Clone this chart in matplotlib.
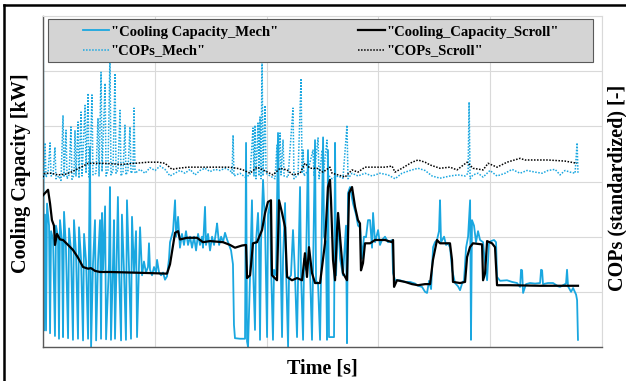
import numpy as np
import matplotlib.pyplot as plt
from matplotlib.patches import Rectangle

plt.rcParams['font.family'] = ['Liberation Serif', 'DejaVu Serif']
plt.rcParams['font.weight'] = 'bold'

# Cooling capacity, mechanical compressor (time [s], value)
t_cap_mech = [0, 9, 18, 27, 36, 54, 63, 72, 90, 107, 116, 134, 143, 152, 170, 179, 188, 205,
              224, 233, 250, 268, 277, 295, 313, 322, 340, 358, 367, 385, 403, 420, 430, 447,
              465, 475, 492, 510, 519, 528, 537, 555, 564, 590, 599, 608, 626, 635, 644, 670,
              680, 698, 706, 724, 742, 751, 769, 787, 796, 814, 832, 841, 868, 886,
              903, 921, 939, 948, 957, 975, 993, 1011, 1020, 1038, 1056, 1074, 1091, 1109,
              1127, 1136, 1163, 1181, 1190, 1208, 1225, 1243, 1261, 1279, 1297, 1315, 1333,
              1351, 1369, 1387, 1404, 1422, 1431, 1449, 1458, 1476, 1494, 1512, 1530, 1548,
              1557, 1575, 1593, 1610, 1628, 1646, 1664, 1682, 1699, 1708, 1717, 1762, 1807,
              1816, 1825, 1834, 1852, 1869, 1878, 1896, 1905, 1923, 1932, 1941, 1950, 1968,
              1986, 2004, 2013, 2031, 2039, 2057, 2066, 2084, 2102, 2111, 2120, 2138, 2147,
              2165, 2174, 2192, 2200, 2218, 2236, 2254, 2272, 2281, 2299, 2308, 2326, 2335,
              2352, 2370, 2379, 2388, 2406, 2415, 2433, 2442, 2460, 2478, 2487, 2505, 2514,
              2531, 2540, 2549, 2558, 2603, 2612, 2621, 2639, 2657, 2683, 2710, 2719, 2728,
              2746, 2773, 2800, 2818, 2836, 2853, 2871, 2889, 2907, 2925, 2943, 2952, 2970,
              2997, 3014, 3032, 3059, 3086, 3122, 3131, 3149, 3193, 3238, 3283, 3328, 3345,
              3372, 3390, 3417, 3435, 3453, 3471, 3489, 3506, 3524, 3542, 3551, 3560, 3587,
              3605, 3623, 3641, 3659, 3685, 3712, 3730, 3748, 3766, 3784, 3802, 3820, 3828,
              3837, 3855, 3873, 3891, 3909, 3936, 3954, 3972, 3989, 4007, 4034, 4052, 4061,
              4088, 4150, 4195, 4240, 4267, 4276, 4285, 4294, 4320, 4356, 4401, 4446, 4455,
              4464, 4472, 4517, 4562, 4607, 4625, 4651, 4678, 4687, 4696, 4723, 4741, 4768,
              4777, 4785]
cap_mech = [6.3, 0.3, 2.4, 0.3, 2.6, 2.2, 0.25, 2.1, 1.95, 0.2, 2.2, 2.0, 0.15, 2.3, 1.9, 0.18,
            2.45, 1.8, 0.16, 2.15, 1.75, 0.13, 2.3, 1.7, 0.15, 2.17, 1.6, 0.12, 2.05, 1.55,
            0.15, 3.62, 0.0, 1.5, 2.3, 0.12, 1.55, 2.3, 0.15, 2.43, 1.4, 2.55, 0.14, 1.5, 2.9,
            0.13, 1.5, 2.3, 0.15, 2.72, 1.4, 0.12, 2.4, 1.4, 0.13, 2.66, 1.45, 0.15, 2.36, 1.35,
            2.1, 0.18, 2.17, 1.3,
            1.55, 1.35, 1.45, 1.88, 1.4, 1.3, 1.45, 1.35, 1.58, 1.35, 1.3, 1.35, 1.22, 1.28,
            1.6, 1.9, 2.1, 2.66, 2.0, 2.36, 1.8, 2.05, 1.85, 2.1, 1.85, 2.0, 1.8,
            2.0, 1.75, 2.05, 1.85, 2.0, 1.8, 2.54, 1.85, 2.05, 1.75, 2.0, 1.85, 2.1,
            2.24, 1.85, 2.0, 1.9, 2.07, 1.95, 1.85, 1.75, 1.5, 0.4, 0.16, 0.15, 0.15,
            3.7, 0.1, 0.0, 1.3, 2.66, 1.5, 0.31, 1.9, 2.43, 1.9, 0.13, 1.9, 3.03,
            2.2, 0.18, 2.4, 2.61, 1.5, 0.13, 1.4, 1.3, 3.88, 2.5, 2.2, 0.18, 1.6,
            2.61, 1.4, 0.0, 1.25, 1.3, 2.12, 1.3, 0.18, 1.2, 2.9, 1.3, 0.13, 1.6,
            1.4, 3.57, 1.8, 1.4, 0.13, 1.3, 3.75, 1.2, 1.15, 0.13, 1.3, 3.8, 2.0,
            1.9, 0.13, 3.57, 0.18, 0.18, 3.7, 1.3, 2.4, 1.6, 1.3, 2.2, 0.07, 2.79,
            2.9, 2.6, 2.4, 2.2, 2.17, 1.6, 2.0, 1.99, 2.3, 2.3, 1.8, 2.43, 1.9,
            2.12, 1.85, 1.94, 2.0, 1.9, 1.94, 1.34, 1.21, 1.21, 1.18, 1.18, 1.15, 1.12,
            1.1, 1.09, 1.0, 0.98, 1.2, 1.05, 1.81, 1.9, 1.94, 2.1, 2.66, 1.9, 2.0,
            1.85, 1.88, 1.8, 1.4, 1.16, 1.1, 1.03, 1.15, 1.21, 1.8, 2.0, 2.66, 0.13,
            2.3, 2.2, 1.9, 2.1, 1.94, 1.9, 1.5, 1.21, 1.88, 1.92, 1.94, 1.9, 1.27,
            1.2, 1.21, 1.18, 1.16, 1.09, 1.4, 1.39, 0.98, 1.14, 1.16, 1.15, 1.16, 1.4,
            1.39, 1.14, 1.16, 1.16, 1.1, 1.09, 1.12, 1.15, 1.4, 1.1, 1.0, 1.07, 0.95,
            0.85, 0.13]

# Cooling capacity, scroll compressor
t_cap_scroll = [0, 18, 45, 63, 80, 98, 107, 125, 152, 179, 224, 268, 313, 358, 403, 429, 465,
                510, 599, 778, 957, 1109, 1136, 1181, 1208, 1225, 1288, 1378, 1431, 1494, 1610,
                1673, 1717, 1780, 1816, 1825, 1852, 1878, 1914, 1959, 1986, 2012, 2039, 2048,
                2093, 2111, 2138, 2165, 2183, 2227, 2272, 2317, 2343, 2361, 2379, 2406, 2433,
                2478, 2522, 2549, 2567, 2576, 2594, 2612, 2630, 2639, 2657, 2683, 2719, 2737,
                2764, 2791, 2817, 2835, 2844, 2862, 2880, 2925, 2970, 3059, 3122, 3131, 3140,
                3166, 3238, 3301, 3354, 3417, 3462, 3488, 3524, 3551, 3640, 3658, 3667, 3730,
                3775, 3793, 3819, 3846, 3927, 3936, 3954, 3972, 4016, 4043, 4061, 4177, 4445,
                4785]
cap_scroll = [2.75, 2.79, 2.85, 2.6, 2.3, 2.2, 1.85, 2.05, 1.95, 1.94, 1.85, 1.76, 1.62, 1.45,
              1.42, 1.43, 1.38, 1.36, 1.36, 1.35, 1.34, 1.33, 1.5, 2.07, 2.1, 1.95, 1.98, 1.98,
              1.9, 1.92, 1.9, 1.85, 1.8, 1.84, 1.85, 1.25, 1.3, 1.88, 1.9, 2.12, 2.43, 2.63,
              2.66, 1.3, 1.21, 2.66, 2.43, 2.17, 1.27, 1.21, 1.25, 1.21, 1.7, 1.27, 1.81, 1.34,
              1.16, 1.16, 1.88, 2.9, 3.03, 2.66, 1.58, 1.21, 2.12, 2.43, 1.99, 1.34, 1.21, 2.79,
              2.9, 2.54, 2.3, 2.24, 1.39, 1.52, 1.88, 1.88, 1.94, 1.94, 1.9, 1.94, 1.09,
              1.21, 1.18, 1.14, 1.12, 1.14, 1.14, 1.58, 1.94, 1.88, 1.88, 1.58, 1.18, 1.16,
              1.18, 1.63, 1.81, 1.88, 1.86, 1.21, 1.34, 1.92, 1.88, 1.81, 1.12, 1.12, 1.11,
              1.11]

# COPs (standardized), mechanical compressor
t_cop_mech = [0, 9, 18, 27, 45, 63, 72, 89, 107, 116, 143, 161, 179, 188, 206, 215, 233, 250,
              259, 277, 286, 295, 313, 322, 340, 349, 376, 385, 403, 411, 420, 438, 447, 474,
              492, 501, 519, 528, 555, 564, 581, 599, 608, 626, 644, 653, 671, 689, 698, 716,
              733, 742, 760, 778, 787, 805, 814, 823, 868, 912, 957, 1002, 1047, 1091, 1136,
              1181, 1225, 1270, 1315, 1360, 1404, 1449, 1494, 1539, 1583, 1628, 1673, 1691,
              1700, 1708, 1762, 1807, 1852, 1878, 1887, 1896, 1905, 1923, 1932, 1941, 1950,
              1959, 1968, 1986, 1995, 2031, 2075, 2093, 2102, 2120, 2129, 2147, 2156, 2192,
              2236, 2245, 2281, 2308, 2317, 2326, 2335, 2370, 2415, 2424, 2460, 2469, 2496,
              2505, 2540, 2549, 2585, 2639, 2683, 2719, 2728, 2764, 2818, 2880, 2943, 3014,
              3086, 3149, 3211, 3283, 3354, 3417, 3480, 3551, 3641, 3712, 3775, 3802, 3811,
              3820, 3846, 3891, 3936, 3998, 4061, 4133, 4195, 4267, 4329, 4401, 4464, 4517,
              4580, 4625, 4669, 4714, 4759, 4777, 4785]
cop_mech = [3.05, 3.12, 3.7, 3.08, 3.15, 3.7, 3.1, 3.12, 3.62, 3.05, 3.1, 3.02, 4.2, 3.08, 3.93,
            3.05, 3.12, 3.99, 3.04, 3.12, 3.93, 3.1, 4.08, 3.06, 4.26, 3.1, 4.38, 3.15, 4.6,
            3.08, 3.2, 4.57, 3.12, 3.15, 4.15, 3.1, 4.98, 3.18, 4.78, 3.1, 3.2, 5.3, 3.12, 3.2,
            4.96, 3.15, 3.22, 4.29, 3.1, 3.18, 4.02, 3.12, 3.2, 3.99, 3.15, 3.2, 4.33, 3.15,
            3.22, 3.15, 3.25, 3.2, 3.28, 3.22, 3.1, 3.15, 3.2, 3.15, 3.22, 3.12, 3.2, 3.24,
            3.18, 3.22, 3.2, 3.24, 3.2, 3.15, 3.84, 3.1, 3.15, 3.08, 3.12, 3.97, 3.1, 4.02,
            3.05, 4.06, 3.1, 4.17, 3.05, 5.3, 3.1, 4.38, 3.15, 3.1, 3.05, 3.66, 3.08, 3.88,
            3.12, 3.75, 3.1, 3.08, 4.33, 3.05, 3.12, 4.87, 3.15, 3.57, 3.1, 3.2, 3.57, 3.1,
            3.79, 3.05, 3.57, 3.1, 3.75, 3.12, 3.05, 3.1, 3.06, 4.02, 3.05, 3.15, 3.1, 3.15,
            3.1, 3.15, 3.12, 3.05, 3.15, 3.2, 3.24, 3.2, 3.1, 3.06, 3.1, 3.12, 3.1, 3.15,
            4.44, 3.05, 3.12, 3.15, 3.08, 3.2, 3.1, 3.15, 3.22, 3.15, 3.2, 3.17, 3.15, 3.2,
            3.22, 3.12, 3.2, 3.17, 3.15, 3.7, 3.15]

# COPs (standardized), scroll compressor
t_cop_scroll = [0, 18, 72, 134, 197, 250, 340, 403, 555, 698, 823, 939, 1029, 1091, 1154, 1208,
                1297, 1422, 1539, 1655, 1735, 1789, 1852, 1914, 1968, 2057, 2120, 2183, 2236,
                2299, 2343, 2388, 2451, 2504, 2567, 2585, 2639, 2701, 2764, 2817, 2880, 2970,
                3059, 3122, 3148, 3211, 3301, 3354, 3417, 3462, 3551, 3640, 3703, 3793, 3846,
                3936, 3981, 4061, 4150, 4267, 4311, 4517, 4669, 4777]
cop_scroll = [3.08, 3.15, 3.15, 3.12, 3.13, 3.17, 3.26, 3.33, 3.33, 3.31, 3.33, 3.35, 3.35, 3.33,
              3.22, 3.24, 3.26, 3.26, 3.26, 3.26, 3.24, 3.21, 3.15, 3.26, 3.21, 3.12, 3.24, 3.21,
              3.12, 3.15, 3.33, 3.24, 3.24, 3.17, 3.26, 3.15, 3.12, 3.08, 3.21, 3.17, 3.26, 3.26,
              3.26, 3.28, 3.17, 3.24, 3.35, 3.39, 3.35, 3.30, 3.24, 3.26, 3.21, 3.35, 3.24,
              3.21, 3.33, 3.26, 3.35, 3.42, 3.39, 3.39, 3.37, 3.33]

blue = '#1aa7e0'

fig = plt.figure(figsize=(6.26, 3.81), dpi=100)
ax = fig.add_axes([0.0687, 0.0892, 0.8930, 0.8688])

l1, = ax.plot(t_cap_mech, cap_mech, color=blue, lw=1.3, label='"Cooling Capacity_Mech"', zorder=2)
l2, = ax.plot(t_cap_scroll, cap_scroll, color='black', lw=1.6, label='"Cooling_Capacity_Scroll"', zorder=3)
ax.set_xlim(0, 5000)
ax.set_ylim(0, 6)
ax.set_xticks(np.arange(0, 5001, 1000))
ax.set_yticks(np.arange(0, 7, 1))
ax.tick_params(length=0, labelleft=False, labelbottom=False)
ax.grid(True, color='#d9d9d9', lw=0.8)
ax.set_axisbelow(True)
for s in ['top', 'right']:
    ax.spines[s].set_color('#d9d9d9')
for s in ['left', 'bottom']:
    ax.spines[s].set_color('#595959')
    ax.spines[s].set_linewidth(1.0)

ax2 = ax.twinx()
l3, = ax2.plot(t_cop_mech, cop_mech, color=blue, lw=1.1, ls=(0, (1, 1)), label='"COPs_Mech"')
l4, = ax2.plot(t_cop_scroll, cop_scroll, color='black', lw=1.1, ls=(0, (1, 1)), label='"COPs_Scroll"')
ax2.set_ylim(0, 6)
ax2.tick_params(length=0, labelright=False)
for s in ax2.spines.values():
    s.set_visible(False)

ax.set_xlabel('Time [s]', fontsize=14.5, fontweight='bold')
ax.xaxis.set_label_coords(0.5, -0.034)
ax.set_ylabel('Cooling Capacity [kW]', fontsize=14.5, fontweight='bold')
ax.yaxis.set_label_coords(-0.022, 0.525)
ax2.set_ylabel('COPs (standardized) [-]', fontsize=14.5, fontweight='bold')
ax2.yaxis.set_label_coords(1.009, 0.48)

# grey legend box spanning the top of the plot
box = Rectangle((0.009, 0.861), 0.975, 0.13, transform=ax2.transAxes, facecolor='#d4d4d4',
                edgecolor='#595959', lw=0.8, zorder=9, clip_on=False)
ax2.add_patch(box)

leg = ax2.legend([l1, l3, l2, l4], [l1.get_label(), l3.get_label(), l2.get_label(), l4.get_label()],
                 ncol=2, loc='center', bbox_to_anchor=(0.497, 0.923),
                 fontsize=10.5, frameon=False, handlelength=1.8, handletextpad=0.1,
                 columnspacing=5.5, labelspacing=0.4, borderpad=0, borderaxespad=0)
leg.set_zorder(10)

# figure border on left and top
fig.add_artist(plt.Line2D([0.006, 0.006], [0, 0.988], color='black', lw=1.8, transform=fig.transFigure))
fig.add_artist(plt.Line2D([0.006, 1.0], [0.988, 0.988], color='black', lw=1.8, transform=fig.transFigure))

fig.savefig('out.png', dpi=100)
